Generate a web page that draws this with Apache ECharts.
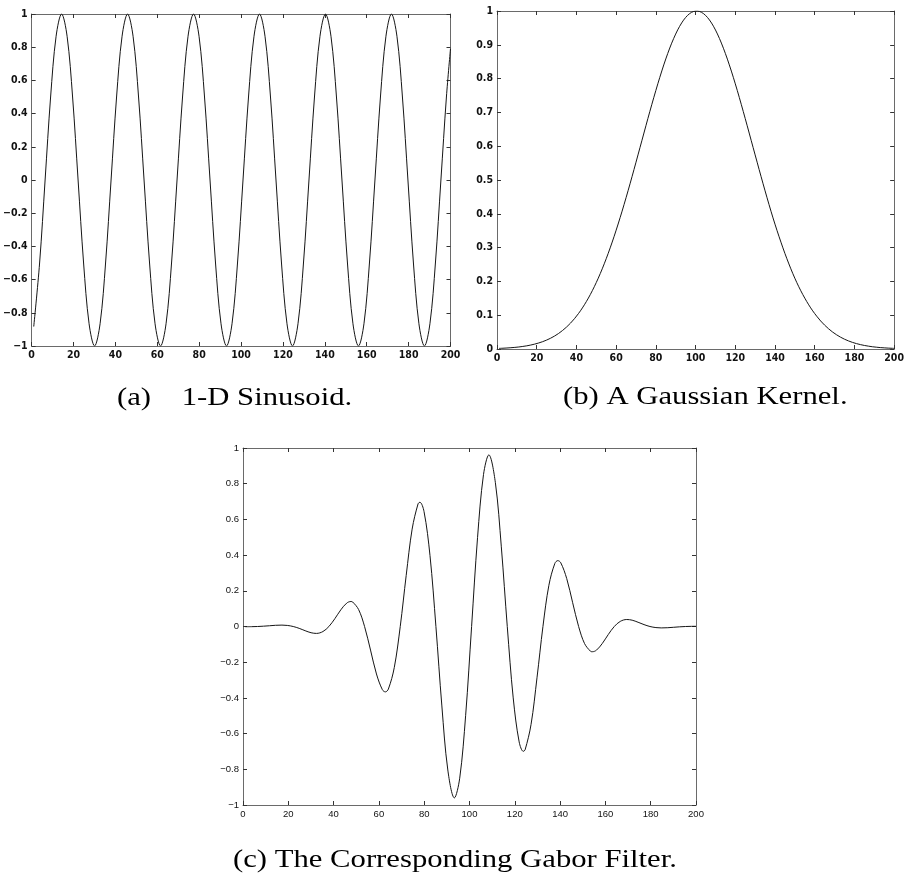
<!DOCTYPE html>
<html>
<head>
<meta charset="utf-8">
<script src="https://cdn.jsdelivr.net/npm/echarts@6/dist/echarts.min.js"></script>
<style>
  html, body { margin: 0; padding: 0; background: #fff; }
  #chart { width: 907px; height: 887px; }
</style>
</head>
<body>
<div id="chart"></div>
<script>
// (a) 1-D sinusoid: sample positions and values
const sinusoidX = [1,
  3.8, 6.425, 9.05, 11.675, 14.3, 16.925, 19.55, 22.175, 24.8, 27.425, 30.05, 32.675,
  35.3, 37.925, 40.55, 43.175, 45.8, 48.425, 51.05, 53.675, 56.3, 58.925, 61.55, 64.175,
  66.8, 69.425, 72.05, 74.675, 77.3, 79.925, 82.55, 85.175, 87.8, 90.425, 93.05, 95.675,
  98.3, 100.925, 103.55, 106.175, 108.8, 111.425, 114.05, 116.675, 119.3, 121.925, 124.55, 127.175,
  129.8, 132.425, 135.05, 137.675, 140.3, 142.925, 145.55, 148.175, 150.8, 153.425, 156.05, 158.675,
  161.3, 163.925, 166.55, 169.175, 171.8, 174.425, 177.05, 179.675, 182.3, 184.925, 187.55, 190.175,
  192.8, 195.425, 198.05,
  200];
const sinusoidY = [-0.883,
  -0.5, 0, 0.5, 0.866, 1, 0.866, 0.5, 0, -0.5, -0.866, -1, -0.866,
  -0.5, 0, 0.5, 0.866, 1, 0.866, 0.5, 0, -0.5, -0.866, -1, -0.866,
  -0.5, 0, 0.5, 0.866, 1, 0.866, 0.5, 0, -0.5, -0.866, -1, -0.866,
  -0.5, 0, 0.5, 0.866, 1, 0.866, 0.5, 0, -0.5, -0.866, -1, -0.866,
  -0.5, 0, 0.5, 0.866, 1, 0.866, 0.5, 0, -0.5, -0.866, -1, -0.866,
  -0.5, 0, 0.5, 0.866, 1, 0.866, 0.5, 0, -0.5, -0.866, -1, -0.866,
  -0.5, 0, 0.5,
  0.791];

// (b) Gaussian kernel
const kernelX = [1, 3, 5, 7, 9, 11, 13, 15, 17, 19, 21, 23, 25, 27, 29, 31, 33, 35, 37, 39,
  41, 43, 45, 47, 49, 51, 53, 55, 57, 59, 61, 63, 65, 67, 69, 71, 73, 75, 77, 79,
  81, 83, 85, 87, 89, 91, 93, 95, 97, 99, 101, 103, 105, 107, 109, 111, 113, 115, 117, 119,
  121, 123, 125, 127, 129, 131, 133, 135, 137, 139, 141, 143, 145, 147, 149, 151, 153, 155, 157, 159,
  161, 163, 165, 167, 169, 171, 173, 175, 177, 179, 181, 183, 185, 187, 189, 191, 193, 195, 197, 199, 200];
const kernelY = [0.0018, 0.0023, 0.0030, 0.0038, 0.0048, 0.0060, 0.0076, 0.0094, 0.0117, 0.0145,
  0.0178, 0.0217, 0.0264, 0.0319, 0.0384, 0.0459, 0.0547, 0.0648, 0.0764, 0.0896,
  0.1046, 0.1215, 0.1403, 0.1612, 0.1843, 0.2096, 0.2372, 0.2671, 0.2992, 0.3335,
  0.3698, 0.4079, 0.4477, 0.4888, 0.5311, 0.5742, 0.6174, 0.6606, 0.7033, 0.7447,
  0.7847, 0.8227, 0.8581, 0.8904, 0.9191, 0.9441, 0.9647, 0.9809, 0.9922, 0.9986,
  0.9998, 0.9960, 0.9872, 0.9734, 0.9550, 0.9321, 0.9051, 0.8745, 0.8406, 0.8039,
  0.7650, 0.7240, 0.6819, 0.6390, 0.5958, 0.5527, 0.5099, 0.4680, 0.4272, 0.3879,
  0.3510, 0.3160, 0.2826, 0.2517, 0.2228, 0.1963, 0.1722, 0.1505, 0.1306, 0.1128,
  0.0971, 0.0829, 0.0705, 0.0597, 0.0502, 0.0421, 0.0350, 0.0290, 0.0239, 0.0196,
  0.0160, 0.0130, 0.0105, 0.0085, 0.0067, 0.0054, 0.0042, 0.0034, 0.0026, 0.0021, 0.0018];

// (c) Gabor filter, including each lobe's extreme
const gaborX = [1,
  3.8, 6.425, 9.05, 11.675, 14.3, 17.2, 19.55, 22.175, 24.8, 27.425, 30.05, 32.43,
  35.3, 37.925, 40.55, 43.175, 45.8, 47.65, 48.425, 51.05, 53.675, 56.3, 58.925, 61.55, 62.87, 64.175,
  66.8, 69.425, 72.05, 74.675, 77.3, 78.09, 79.925, 82.55, 85.175, 87.8, 90.425, 93.32, 95.675,
  98.3, 100.925, 103.55, 106.175, 108.54, 111.425, 114.05, 116.675, 119.3, 121.925, 123.76, 124.55, 127.175,
  129.8, 132.425, 135.05, 137.675, 138.98, 140.3, 142.925, 145.55, 148.175, 150.8, 153.425, 154.21, 156.05, 158.675,
  161.3, 163.925, 166.55, 169.43, 171.8, 174.425, 177.05, 179.675, 182.3, 184.65, 187.55, 190.175,
  192.8, 195.425, 198.05,
  200];
const gaborY = [-0.0011,
  -0.0009, 0, 0.0018, 0.0042, 0.0067, 0.0078, 0.0060, 0, -0.0104, -0.0235, -0.0349, -0.0387,
  -0.0281, 0, 0.0438, 0.0932, 0.1312, 0.1399, 0.1372, 0.0948, 0, -0.1320, -0.2660, -0.3543, -0.3663, -0.3507,
  -0.2292, 0, 0.2860, 0.5456, 0.6877, 0.6961, 0.6440, 0.3985, 0, -0.4451, -0.8038, -0.9601, -0.8498,
  -0.4976, 0, 0.4978, 0.8507, 0.9615, 0.8055, 0.4463, 0, -0.4000, -0.6467, -0.6993, -0.6909, -0.5484,
  -0.2876, 0, 0.2309, 0.3532, 0.3691, 0.3571, 0.2683, 0.1332, 0, -0.0957, -0.1387, -0.1413, -0.1326, -0.0943,
  -0.0443, 0, 0.0285, 0.0392, 0.0354, 0.0238, 0.0106, 0, -0.0061, -0.0079, -0.0068, -0.0043,
  -0.0018, 0, 0.0009,
  0.0011];

// Tick labels
const xTickLabels = ['0', '20', '40', '60', '80', '100', '120', '140', '160', '180', '200'];
const symTickLabels = ['\u22121', '\u22120.8', '\u22120.6', '\u22120.4', '\u22120.2', '0', '0.2', '0.4', '0.6', '0.8', '1'];
const kernelTickLabels = ['0', '0.1', '0.2', '0.3', '0.4', '0.5', '0.6', '0.7', '0.8', '0.9', '1'];

// Captions
const captions = ['(a)    1-D Sinusoid.', '(b) A Gaussian Kernel.', '(c) The Corresponding Gabor Filter.'];

const zip = (xs, ys) => xs.map((x, i) => [x, ys[i]]);

const NARROW_FONT = '"Liberation Sans Narrow", "DejaVu Sans Condensed", Arial, sans-serif';
const PLAIN_FONT = '"Liberation Sans", Arial, Helvetica, sans-serif';
const AXIS_COLOR = '#6a6a6a';

// Per-panel tick label look
const tickStyles = [
  { fontFamily: NARROW_FONT, fontSize: 10.5, fontWeight: 'bold' },
  { fontFamily: NARROW_FONT, fontSize: 10.5, fontWeight: 'bold' },
  { fontFamily: PLAIN_FONT, fontSize: 9.5, fontWeight: 'normal' }
];

function labelLookup(min, step, labels) {
  return v => labels[Math.round((v - min) / step)] || '';
}

function xAxes(grid) {
  const common = {
    type: 'value', gridIndex: grid, min: 0, max: 200, interval: 20,
    splitLine: { show: false },
    axisLine: { show: true, onZero: false, lineStyle: { color: AXIS_COLOR, width: 1 } },
    axisTick: { show: true, inside: true, length: 4, lineStyle: { color: '#333' } }
  };
  return [
    Object.assign({}, common, {
      position: 'bottom',
      axisLabel: Object.assign({
        show: true, margin: 4, color: '#111',
        formatter: labelLookup(0, 20, xTickLabels)
      }, tickStyles[grid])
    }),
    Object.assign({}, common, { position: 'top', axisLabel: { show: false } })
  ];
}

function yAxes(grid, min, step, labels) {
  const common = {
    type: 'value', gridIndex: grid, min: min, max: min + step * (labels.length - 1), interval: step,
    splitLine: { show: false },
    axisLine: { show: true, onZero: false, lineStyle: { color: AXIS_COLOR, width: 1 } },
    axisTick: { show: true, inside: true, length: 4, lineStyle: { color: '#333' } }
  };
  return [
    Object.assign({}, common, {
      position: 'left',
      axisLabel: Object.assign({
        show: true, margin: 4, color: '#111',
        formatter: labelLookup(min, step, labels)
      }, tickStyles[grid])
    }),
    Object.assign({}, common, { position: 'right', axisLabel: { show: false } })
  ];
}

function curve(data, idx) {
  return {
    type: 'line', data: data, xAxisIndex: idx * 2, yAxisIndex: idx * 2,
    showSymbol: false, smooth: 0.35, silent: true, animation: false,
    lineStyle: { color: '#151515', width: 1 }
  };
}

function caption(text, left, midY) {
  return {
    type: 'text', x: left, y: midY, scaleX: 1.18, scaleY: 1, silent: true,
    style: {
      text: text, x: 0, y: 0, textAlign: 'left', textVerticalAlign: 'middle',
      font: '26px "Liberation Serif", "Times New Roman", serif', fill: '#000'
    }
  };
}

const chart = echarts.init(document.getElementById('chart'), null, { renderer: 'canvas' });
chart.setOption({
  animation: false,
  backgroundColor: '#fff',
  grid: [
    { left: 29.5, top: 14, width: 421, height: 332 },
    { left: 497, top: 11, width: 406, height: 338 },
    { left: 243, top: 448, width: 453, height: 357 }
  ],
  xAxis: [].concat(xAxes(0), xAxes(1), xAxes(2)),
  yAxis: [].concat(
    yAxes(0, -1, 0.2, symTickLabels),
    yAxes(1, 0, 0.1, kernelTickLabels),
    yAxes(2, -1, 0.2, symTickLabels)
  ),
  series: [
    curve(zip(sinusoidX, sinusoidY), 0),
    curve(zip(kernelX, kernelY), 1),
    curve(zip(gaborX, gaborY), 2)
  ],
  graphic: [
    caption(captions[0], 117, 398),
    caption(captions[1], 563, 397),
    caption(captions[2], 233, 860)
  ]
});
</script>
</body>
</html>
